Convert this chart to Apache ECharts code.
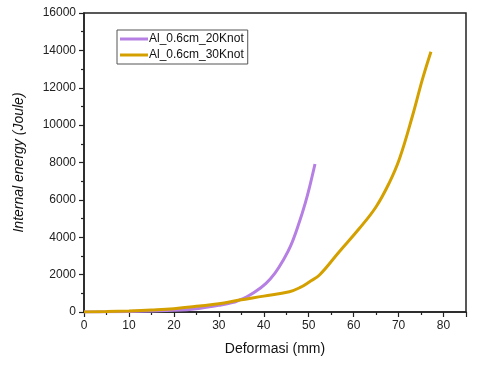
<!DOCTYPE html>
<html>
<head>
<meta charset="utf-8">
<script src="https://cdn.jsdelivr.net/npm/echarts@6/dist/echarts.min.js"></script>
<style>
  html, body { margin: 0; padding: 0; background: #fff; }
  #chart { width: 480px; height: 365px; }
</style>
</head>
<body>
<div id="chart"></div>
<script>
// series names
var names = ['Al_0.6cm_20Knot', 'Al_0.6cm_30Knot']
var colors = ['#b57fe3', '#d4a000']

// 20 knot curve (deformasi mm, energy J)
var x20 = [0, 5, 10, 15, 20, 25, 30, 33, 34.6, 36, 38, 40.5, 42.5, 44.3, 46, 47.9, 49.2, 50.2, 51.4]
var y20 = [0, 10, 30, 55, 90, 180, 360, 500, 640, 790, 1065, 1535, 2080, 2760, 3550, 4800, 5800, 6700, 7920]

// 30 knot curve
var x30 = [0, 5, 10, 15, 20, 25.7, 30, 34.6, 40, 45.7, 48, 50.2, 52.4, 56.8, 61.3, 65, 67.9, 70.2, 73.1, 75.3, 77.2]
var y30 = [0, 25, 60, 110, 180, 320, 440, 640, 850, 1086, 1300, 1621, 1980, 3227, 4478, 5634, 6900, 8200, 10500, 12450, 13930]

function zip(xs, ys) {
  return xs.map(function (x, i) { return [x, ys[i]] })
}

var chart = echarts.init(document.getElementById('chart'))

var axisText = { color: '#222', fontFamily: 'Liberation Sans', fontSize: 12 }

chart.setOption({
  animation: false,
  grid: {
    left: 84, right: 14, top: 13, bottom: 53,
    show: true, borderColor: '#222', borderWidth: 1.5, backgroundColor: 'transparent'
  },
  legend: {
    orient: 'vertical',
    left: 117, top: 30,
    borderColor: '#555', borderWidth: 1, borderRadius: 0,
    padding: [3, 4, 3, 3],
    itemGap: 4, itemWidth: 28, itemHeight: 3,
    icon: 'rect',
    textStyle: { color: '#111', fontFamily: 'Liberation Sans', fontSize: 12, padding: [0, 0, 0, -4] },
    data: names
  },
  xAxis: {
    type: 'value', min: 0, max: 85, interval: 10,
    name: 'Deformasi (mm)', nameLocation: 'middle', nameGap: 30,
    nameTextStyle: { color: '#111', fontFamily: 'Liberation Sans', fontSize: 14 },
    axisLine: { lineStyle: { color: '#222', width: 1.5 } },
    axisTick: { length: 5, lineStyle: { color: '#222', width: 1.2 } },
    minorTick: { show: true, splitNumber: 2, length: 3, lineStyle: { color: '#222', width: 1.2 } },
    splitLine: { show: false },
    axisLabel: Object.assign({
      showMaxLabel: false,
      formatter: function (v) { return v % 10 === 0 ? String(v) : '' }
    }, axisText)
  },
  yAxis: {
    type: 'value', min: 0, max: 16000, interval: 2000,
    name: 'Internal energy (Joule)', nameLocation: 'middle', nameGap: 58,
    nameTextStyle: { color: '#111', fontFamily: 'Liberation Sans', fontSize: 14, fontStyle: 'italic' },
    axisLine: { show: true, lineStyle: { color: '#222', width: 1.5 } },
    axisTick: { show: true, length: 5, lineStyle: { color: '#222', width: 1.2 } },
    minorTick: { show: true, splitNumber: 2, length: 3, lineStyle: { color: '#222', width: 1.2 } },
    splitLine: { show: false },
    axisLabel: Object.assign({
      formatter: function (v) { return String(v) }
    }, axisText)
  },
  series: [
    {
      name: names[0], type: 'line', smooth: 0.4, symbol: 'none',
      color: colors[0], lineStyle: { width: 3, color: colors[0] },
      data: zip(x20, y20)
    },
    {
      name: names[1], type: 'line', smooth: 0.4, symbol: 'none',
      color: colors[1], lineStyle: { width: 3, color: colors[1] },
      data: zip(x30, y30)
    }
  ]
})
</script>
</body>
</html>
